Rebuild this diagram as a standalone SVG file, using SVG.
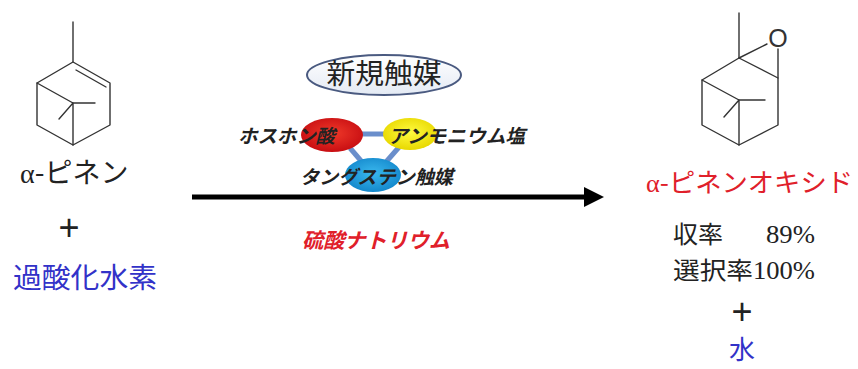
<svg xmlns="http://www.w3.org/2000/svg" width="858" height="369" viewBox="0 0 858 369">
<defs>
<radialGradient id="gRed" cx="50%" cy="45%" r="55%"><stop offset="0" stop-color="#f03a2a"/><stop offset="1" stop-color="#c80e12"/></radialGradient>
<radialGradient id="gYel" cx="50%" cy="45%" r="55%"><stop offset="0" stop-color="#fffb40"/><stop offset="1" stop-color="#e8d800"/></radialGradient>
<radialGradient id="gBlue" cx="50%" cy="45%" r="55%"><stop offset="0" stop-color="#3ab8ee"/><stop offset="1" stop-color="#1488cc"/></radialGradient>
<linearGradient id="gOval" x1="0" y1="0" x2="0" y2="1"><stop offset="0" stop-color="#ffffff"/><stop offset="1" stop-color="#e4eaf4"/></linearGradient>
<marker id="arrow" viewBox="0 0 20 20" refX="0" refY="10" markerWidth="20" markerHeight="20" markerUnits="userSpaceOnUse" orient="auto"><path d="M0,0 L20,10 L0,20 Z" fill="#000"/></marker>
</defs>
<style>
.mol{fill:none;stroke:#333;stroke-width:1.4;stroke-linecap:round;stroke-linejoin:round}
.jp{font-family:"Noto Sans CJK JP","Liberation Sans",sans-serif}
.ser{font-family:"Liberation Serif",serif}
.plus{font-family:"Liberation Sans",sans-serif;font-size:36px;fill:#222}
.cat{font-family:"Noto Sans CJK JP",sans-serif;font-size:19px;font-style:italic;font-weight:bold;fill:#222}
.link{stroke:#6a8ecb;stroke-width:5}
</style>

<g id="alpha-pinene">
<path class="mol" d="M73,22 L73,62"/>
<path class="mol" d="M73,62 L110,83 L110,125 L73,145 L37,125 L37,83 Z"/>
<path class="mol" d="M76,70 L106,87"/>
<path class="mol" d="M37,83 L73,103 L73,145 M73,103 L95,103 M73,103 L59,119"/>
<text x="20" y="183" font-size="28"><tspan class="ser" fill="#222">α</tspan><tspan class="jp" fill="#222">-ピネン</tspan></text>
</g>

<g id="plus-left"><text class="plus" x="69" y="240" text-anchor="middle">+</text></g>

<g id="h2o2"><text class="jp" x="13" y="288" font-size="28" textLength="144" lengthAdjust="spacingAndGlyphs" fill="#3232c8">過酸化水素</text></g>

<g id="new-catalyst">
<ellipse cx="384" cy="75" rx="77" ry="20" fill="url(#gOval)" stroke="#4a5a80" stroke-width="2"/>
<text class="jp" x="384" y="84" font-size="28" text-anchor="middle" textLength="115" lengthAdjust="spacingAndGlyphs" fill="#222">新規触媒</text>
</g>

<g id="connectors">
<line class="link" x1="360" y1="134" x2="386" y2="134"/>
<line class="link" x1="350" y1="148" x2="362" y2="162"/>
<line class="link" x1="400" y1="146" x2="386" y2="162"/>
<line x1="192" y1="197" x2="584" y2="197" stroke="#000" stroke-width="5" marker-end="url(#arrow)"/>
</g>

<g id="phosphonic-acid">
<ellipse cx="332" cy="135" rx="31" ry="17" fill="url(#gRed)"/>
<text class="cat" x="238" y="143" textLength="97" lengthAdjust="spacingAndGlyphs">ホスホン酸</text>
</g>
<g id="ammonium-salt">
<ellipse cx="410" cy="134" rx="27" ry="16" fill="url(#gYel)"/>
<text class="cat" x="388" y="143" textLength="137" lengthAdjust="spacingAndGlyphs">アンモニウム塩</text>
</g>
<g id="tungsten-catalyst">
<ellipse cx="373" cy="175" rx="28" ry="17" fill="url(#gBlue)"/>
<text class="cat" x="300" y="184" textLength="153" lengthAdjust="spacingAndGlyphs">タングステン触媒</text>
</g>

<g id="sodium-sulfate"><text class="jp" x="302" y="248" font-size="21" font-style="italic" font-weight="bold" textLength="148" lengthAdjust="spacingAndGlyphs" fill="#e0202a">硫酸ナトリウム</text></g>

<g id="pinene-oxide">
<path class="mol" d="M739,13 L739,58"/>
<path class="mol" d="M739,58 L778,78 L778,125 L739,145 L702,125 L702,80 Z"/>
<path class="mol" d="M739,58 L767,44 M778,49 L778,78"/>
<text x="778" y="47" font-family="Liberation Sans, sans-serif" font-size="25" text-anchor="middle" fill="#333">O</text>
<path class="mol" d="M702,80 L739,100 L739,145 M739,100 L765,100 M739,100 L724,117"/>
<text x="646" y="192" font-size="26" fill="#e0202a" textLength="207" lengthAdjust="spacingAndGlyphs"><tspan class="ser">α</tspan><tspan class="jp">-ピネンオキシド</tspan></text>
</g>

<g id="yield">
<text class="jp" x="673" y="243" font-size="24" textLength="50" lengthAdjust="spacingAndGlyphs" fill="#222">収率</text>
<text class="ser" x="766" y="243" font-size="25" textLength="49" lengthAdjust="spacingAndGlyphs" fill="#222">89%</text>
<text class="jp" x="673" y="279" font-size="24" textLength="80" lengthAdjust="spacingAndGlyphs" fill="#222">選択率</text>
<text class="ser" x="753" y="279" font-size="25" textLength="62" lengthAdjust="spacingAndGlyphs" fill="#222">100%</text>
</g>

<g id="plus-right"><text class="plus" x="742" y="324" text-anchor="middle">+</text></g>

<g id="water"><text class="jp" x="742" y="359" font-size="26" text-anchor="middle" fill="#3232c8">水</text></g>
</svg>
